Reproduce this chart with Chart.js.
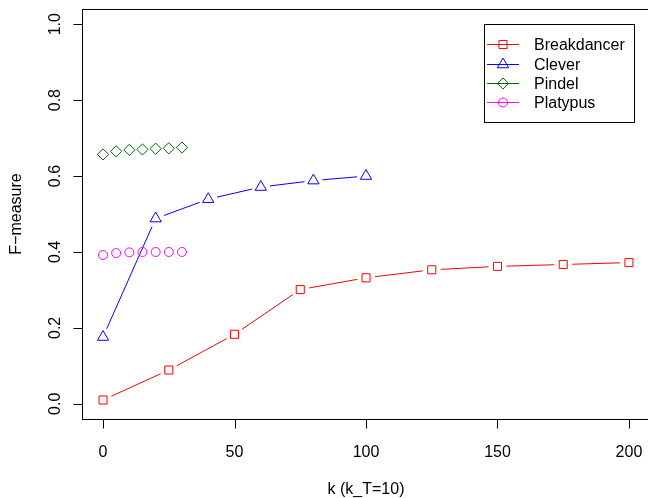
<!DOCTYPE html>
<html lang="en">
<head>
    <meta charset="UTF-8">
    <title>F-measure vs k</title>
    <script src="https://cdn.jsdelivr.net/npm/chart.js"></script>
    <style>
        body {
            margin: 0;
            background: #fff;
            overflow: hidden;
        }
        .chart-box {
            width: 660px;
            height: 498px;
        }
    </style>
</head>
<body>
    <div class="chart-box">
        <canvas id="myChart" width="660" height="498"></canvas>
    </div>

    <script>
        // values
        const breakdancerK = [0, 25, 50, 75, 100, 125, 150, 175, 200];
        const breakdancerF = [0.010, 0.089, 0.183, 0.301, 0.332, 0.353, 0.362, 0.367, 0.372];

        const cleverK = [0, 20, 40, 60, 80, 100];
        const cleverF = [0.176, 0.488, 0.539, 0.571, 0.588, 0.600];

        const pindelK = [0, 5, 10, 15, 20, 25, 30];
        const pindelF = [0.657, 0.665, 0.669, 0.670, 0.672, 0.673, 0.675];

        const platypusK = [0, 5, 10, 15, 20, 25, 30];
        const platypusF = [0.392, 0.397, 0.399, 0.400, 0.400, 0.400, 0.400];

        const xTicks = [0, 50, 100, 150, 200];
        const yTicks = [0.0, 0.2, 0.4, 0.6, 0.8, 1.0];
        const xTitle = 'k (k_T=10)';
        const yTitle = 'F\u2212measure';

        const FONT = '16px "Liberation Sans", Arial, sans-serif';

        function toPoints(xs, ys) {
            return xs.map((x, i) => ({ x: x, y: ys[i] }));
        }

        function makeSet(label, xs, ys, color, style, radius) {
            return {
                label: label,
                data: toPoints(xs, ys),
                showLine: false,
                borderColor: color,
                backgroundColor: 'transparent',
                pointStyle: style,
                pointRadius: radius,
                pointHoverRadius: radius,
                pointBorderWidth: 1,
                pointBorderColor: color,
                pointBackgroundColor: 'transparent'
            };
        }

        const datasets = [
            makeSet('Breakdancer', breakdancerK, breakdancerF, '#ff0000', 'rect', 5.7),
            makeSet('Clever', cleverK, cleverF, '#0000ff', 'triangle', 6.5),
            makeSet('Pindel', pindelK, pindelF, '#006400', 'rectRot', 5.6),
            makeSet('Platypus', platypusK, platypusF, '#ff00ff', 'circle', 4.5)
        ];

        // base R style: lines broken around each symbol (type = "b")
        const GAP = 9;

        const rStyle = {
            id: 'rStyle',
            beforeDatasetsDraw(chart) {
                const ctx = chart.ctx;
                ctx.save();
                ctx.lineWidth = 1;
                chart.data.datasets.forEach((ds, di) => {
                    const pts = chart.getDatasetMeta(di).data;
                    ctx.strokeStyle = ds.borderColor;
                    ctx.beginPath();
                    for (let i = 1; i < pts.length; i++) {
                        const a = pts[i - 1], b = pts[i];
                        const dx = b.x - a.x, dy = b.y - a.y;
                        const d = Math.hypot(dx, dy);
                        if (d <= 2 * GAP) continue;
                        const ux = dx / d, uy = dy / d;
                        ctx.moveTo(a.x + ux * GAP, a.y + uy * GAP);
                        ctx.lineTo(b.x - ux * GAP, b.y - uy * GAP);
                    }
                    ctx.stroke();
                });
                ctx.restore();
            },
            afterDraw(chart) {
                const ctx = chart.ctx;
                const area = chart.chartArea;
                const xs = chart.scales.x, ys = chart.scales.y;
                ctx.save();
                ctx.strokeStyle = '#000';
                ctx.fillStyle = '#000';
                ctx.lineWidth = 1;

                // box
                ctx.strokeRect(Math.round(area.left) + 0.5, Math.round(area.top) + 0.5,
                    Math.round(area.right - area.left), Math.round(area.bottom - area.top));

                // x axis
                ctx.font = FONT;
                ctx.textAlign = 'center';
                ctx.textBaseline = 'alphabetic';
                const xb = Math.round(area.bottom) + 0.5;
                ctx.beginPath();
                xTicks.forEach(v => {
                    const px = Math.round(xs.getPixelForValue(v)) + 0.5;
                    ctx.moveTo(px, xb);
                    ctx.lineTo(px, xb + 9);
                });
                ctx.stroke();
                xTicks.forEach(v => {
                    ctx.fillText(String(v), xs.getPixelForValue(v), 457);
                });
                ctx.fillText(xTitle, (area.left + area.right) / 2, 494);

                // y axis
                const yl = Math.round(area.left) + 0.5;
                ctx.beginPath();
                yTicks.forEach(v => {
                    const py = Math.round(ys.getPixelForValue(v)) + 0.5;
                    ctx.moveTo(yl, py);
                    ctx.lineTo(yl - 9, py);
                });
                ctx.stroke();
                yTicks.forEach(v => {
                    ctx.save();
                    ctx.translate(60, ys.getPixelForValue(v));
                    ctx.rotate(-Math.PI / 2);
                    ctx.fillText(v.toFixed(1), 0, 0);
                    ctx.restore();
                });
                ctx.save();
                ctx.translate(21, (area.top + area.bottom) / 2);
                ctx.rotate(-Math.PI / 2);
                ctx.fillText(yTitle, 0, 0);
                ctx.restore();

                // legend
                ctx.strokeRect(484.5, 24.5, 150, 98);
                const rowY = [44, 64, 83, 102];
                ctx.textAlign = 'left';
                chart.data.datasets.forEach((ds, i) => {
                    const y = rowY[i] + 0.5;
                    ctx.strokeStyle = ds.borderColor;
                    ctx.beginPath();
                    ctx.moveTo(487, y);
                    ctx.lineTo(519, y);
                    ctx.stroke();
                    ctx.fillStyle = 'rgba(0,0,0,0)';
                    Chart.helpers.drawPoint(ctx, {
                        pointStyle: ds.pointStyle,
                        radius: ds.pointRadius,
                        rotation: 0,
                        borderWidth: 1
                    }, 503, y);
                    ctx.fillStyle = '#000';
                    ctx.fillText(ds.label, 534, rowY[i] + 6);
                });
                ctx.restore();
            }
        };

        const ctx = document.getElementById('myChart').getContext('2d');
        const myChart = new Chart(ctx, {
            type: 'line',
            data: { datasets: datasets },
            options: {
                responsive: false,
                animation: false,
                events: [],
                layout: {
                    padding: { left: 82, top: 9, right: 10, bottom: 79 }
                },
                scales: {
                    x: { type: 'linear', min: -8, max: 208, display: false },
                    y: { type: 'linear', min: -0.04, max: 1.04, display: false }
                },
                plugins: {
                    legend: { display: false },
                    tooltip: { enabled: false }
                }
            },
            plugins: [rStyle]
        });
    </script>
</body>
</html>
